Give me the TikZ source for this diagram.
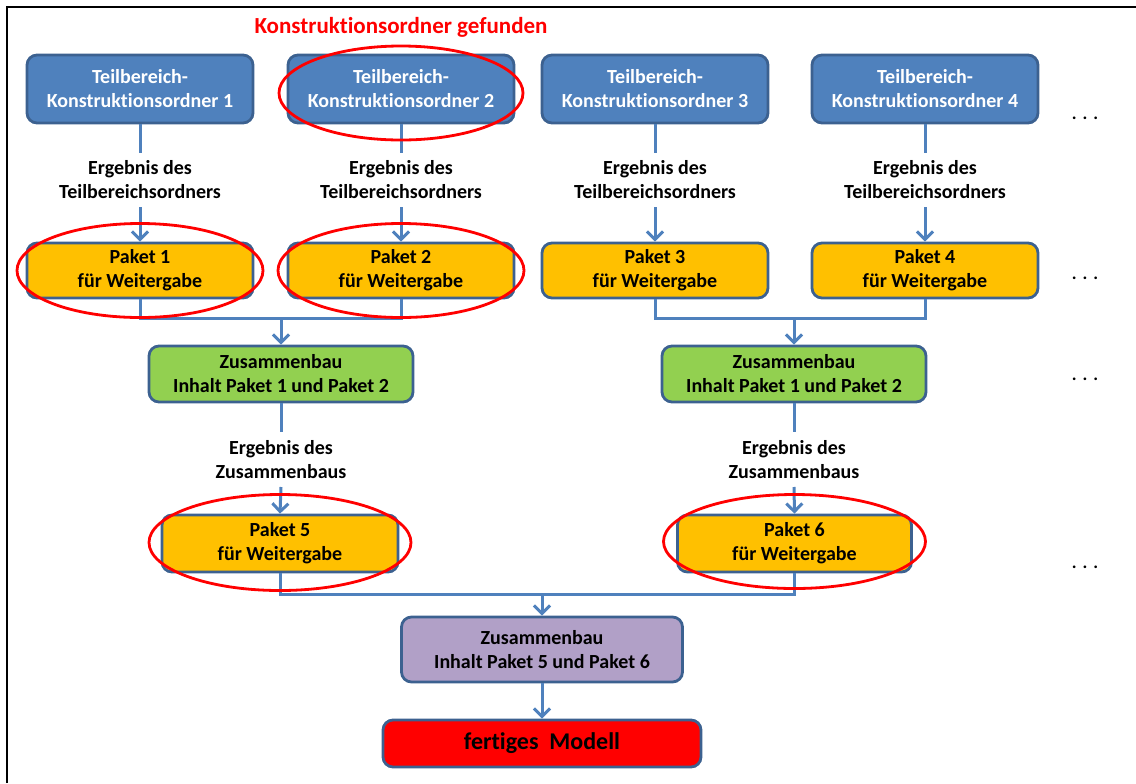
\documentclass[tikz,border=0pt]{standalone}
\usepackage{fontspec}
\setmainfont{Carlito}[Ligatures=NoCommon]
\usetikzlibrary{arrows.meta,positioning}
\definecolor{ordnerblau}{HTML}{4F81BD}
\definecolor{randblau}{HTML}{3C6190}
\definecolor{paketgelb}{HTML}{FFC000}
\definecolor{baugruen}{HTML}{92D050}
\definecolor{baulila}{HTML}{B1A0C7}
\tikzstyle{box} = [
  rectangle,
  rounded corners=5pt,
  draw=randblau,
  line width=1.4pt,
  align=center,
  inner sep=0pt,
  font=\bfseries\fontsize{10}{12}\selectfont,
  ]
\tikzstyle{ordner} = [box, fill=ordnerblau, text=white, minimum width=113pt, minimum height=34pt]
\tikzstyle{paket} = [box, fill=paketgelb, minimum width=113pt, minimum height=27.5pt]
\tikzstyle{bau} = [box, fill=baugruen, minimum width=132pt, minimum height=28pt]
\tikzstyle{ergebnis} = [align=center, inner sep=4pt, font=\bfseries\fontsize{10}{12}\selectfont]
\tikzstyle{linie} = [draw=ordnerblau, line width=1.5pt]
\tikzstyle{pfeil} = [linie, -{Straight Barb[length=4pt,width=8pt]}]
\tikzstyle{fundring} = [draw=red, line width=1.4pt]
\newcommand{\ergtext}[1]{Ergebnis des\\#1}

\begin{document}
\begin{tikzpicture}[x=0.5pt, y=-0.5pt]
  \useasboundingbox (0,0) rectangle (1136,783);
  \draw[line width=0.7pt] (7,783) -- (7,7) -- (1136,7);

  \node[red, font=\bfseries\fontsize{11.5}{12}\selectfont] (titel) at (401,27) {Konstruktionsordner gefunden};

  % Teilbereiche
  \node[ordner] (t1) at (140,89) {Teilbereich-\\Konstruktionsordner 1};
  \node[ordner] (t2) at (401,89) {Teilbereich-\\Konstruktionsordner 2};
  \node[ordner] (t3) at (655,89) {Teilbereich-\\Konstruktionsordner 3};
  \node[ordner] (t4) at (925,89) {Teilbereich-\\Konstruktionsordner 4};

  \node[ergebnis] (e1) at (140,180) {\ergtext{Teilbereichsordners}};
  \node[ergebnis] (e2) at (401,180) {\ergtext{Teilbereichsordners}};
  \node[ergebnis] (e3) at (655,180) {\ergtext{Teilbereichsordners}};
  \node[ergebnis] (e4) at (925,180) {\ergtext{Teilbereichsordners}};

  \node[paket] (p1) at (140,270.5) {Paket 1\\für Weitergabe};
  \node[paket] (p2) at (401,270.5) {Paket 2\\für Weitergabe};
  \node[paket] (p3) at (655,270.5) {Paket 3\\für Weitergabe};
  \node[paket] (p4) at (925,270.5) {Paket 4\\für Weitergabe};

  \node[bau] (z1) at (281,374) {Zusammenbau\\Inhalt Paket 1 und Paket 2};
  \node[bau] (z2) at (794,374) {Zusammenbau\\Inhalt Paket 1 und Paket 2};

  \node[ergebnis] (ez1) at (281,459.5) {\ergtext{Zusammenbaus}};
  \node[ergebnis] (ez2) at (794,459.5) {\ergtext{Zusammenbaus}};

  \node[paket, minimum width=118pt, minimum height=28.5pt] (p5) at (280,543.5) {Paket 5\\für Weitergabe};
  \node[paket, minimum width=117pt, minimum height=28.5pt] (p6) at (794.5,543.5) {Paket 6\\für Weitergabe};

  \node[box, fill=baulila, minimum width=140.5pt, minimum height=32.5pt] (z3) at (542,649.5) {Zusammenbau\\Inhalt Paket 5 und Paket 6};
  \node[box, fill=red, minimum width=159pt, minimum height=23.5pt, font=\bfseries\fontsize{12}{14}\selectfont] (modell) at (542,743.5) {fertiges~ Modell};

  \foreach \y [count=\i] in {119,279,380,568}
    \node[anchor=base, font=\bfseries\fontsize{9}{12}\selectfont] (d\i) at (1085,\y) {.\,\,.\,\,.};

  % Verbindungen
  \foreach \i in {1,2,3,4} {
    \draw[linie] (t\i.south) -- (e\i.north);
    \draw[pfeil] (e\i.south) -- (p\i.north);
  }
  \coordinate (j1) at (281,318);
  \coordinate (j2) at (794,318);
  \coordinate (j3) at (542,594);
  \draw[linie] (p1.south) |- (j1) -| (p2.south);
  \draw[linie] (p3.south) |- (j2) -| (p4.south);
  \draw[pfeil] (j1) -- (z1.north);
  \draw[pfeil] (j2) -- (z2.north);
  \draw[linie] (z1.south) -- (ez1.north);
  \draw[linie] (z2.south) -- (ez2.north);
  \draw[pfeil] (ez1.south) -- (p5.north);
  \draw[pfeil] (ez2.south) -- (p6.north);
  \draw[linie] (p5.south) |- (j3) -| (p6.south);
  \draw[pfeil] (j3) -- (z3.north);
  \draw[pfeil] (z3.south) -- (modell.north);

  % gefundene Ordner
  \draw[fundring] ([yshift=-2pt]t2.center) ellipse [x radius=61pt, y radius=23.5pt];
  \draw[fundring] (p1.center) ellipse [x radius=61.5pt, y radius=23.5pt];
  \draw[fundring] (p2.center) ellipse [x radius=61.5pt, y radius=23.5pt];
  \draw[fundring] ([yshift=0.5pt]p5.center) ellipse [x radius=65.5pt, y radius=24pt];
  \draw[fundring] ([yshift=1pt]p6.center) ellipse [x radius=65.5pt, y radius=23.5pt];
\end{tikzpicture}
\end{document}
